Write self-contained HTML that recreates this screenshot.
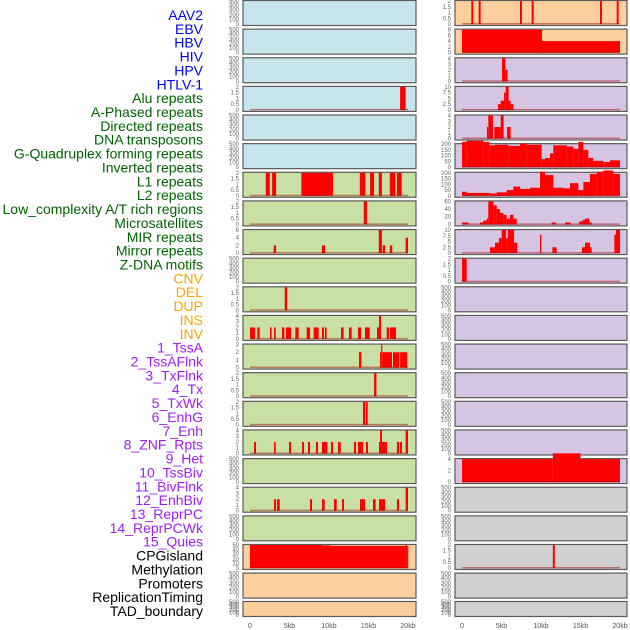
<!DOCTYPE html>
<html><head><meta charset="utf-8">
<style>
body{margin:0;background:#fff;width:630px;height:630px;overflow:hidden}
svg{display:block}
</style></head>
<body>
<svg id="chart" width="630" height="630" xmlns="http://www.w3.org/2000/svg"></svg>
<script>
const labels=["AAV2","EBV","HBV","HIV","HPV","HTLV-1","Alu repeats","A-Phased repeats","Directed repeats","DNA transposons","G-Quadruplex forming repeats","Inverted repeats","L1 repeats","L2 repeats","Low_complexity A/T rich regions","Microsatellites","MIR repeats","Mirror repeats","Z-DNA motifs","CNV","DEL","DUP","INS","INV","1_TssA","2_TssAFlnk","3_TxFlnk","4_Tx","5_TxWk","6_EnhG","7_Enh","8_ZNF_Rpts","9_Het","10_TssBiv","11_BivFlnk","12_EnhBiv","13_ReprPC","14_ReprPCWk","15_Quies","CPGisland","Methylation","Promoters","ReplicationTiming","TAD_boundary"];
const labelColors=["#0000ee","#0000ee","#0000ee","#0000ee","#0000ee","#0000ee","#006400","#006400","#006400","#006400","#006400","#006400","#006400","#006400","#006400","#006400","#006400","#006400","#006400","#ffa500","#ffa500","#ffa500","#ffa500","#ffa500","#a020f0","#a020f0","#a020f0","#a020f0","#a020f0","#a020f0","#a020f0","#a020f0","#a020f0","#a020f0","#a020f0","#a020f0","#a020f0","#a020f0","#a020f0","#000","#000","#000","#000","#000"];
const xTicks=[0,5,10,15,20];
const xTickLabels=["0","5kb","10kb","15kb","20kb"];
const E=[0,100,200,300,400,500];
const T2=[0,0.5,1,1.5,2];
const leftTicks=[E,E,E,T2,E,E,T2,T2,[0,2,4,6],E,T2,[0,1,2,3,4],[0,1,2,3],T2,T2,[0,1,2,3,4],E,[0,1,2,3,4],E,[0,10,20,30,40,50],E,E];
const leftBars=[[],[],[],[[19.0,19.7,2]],[],[],
[[2.0,2.5,2],[2.8,3.3,2],[6.5,10.5,2],[13.9,14.6,2],[15.2,15.7,2],[16.3,16.7,2],[17.7,18.4,2],[18.6,19.2,2]],
[[14.4,14.8,2]],
[[3.0,3.3,2],[9.1,9.5,2],[16.3,16.7,6],[16.8,17.1,2],[17.7,18.0,2],[19.7,20,4]],
[],
[[4.4,4.7,2]],
[[0,0.63,2],[0.93,1.22,2],[2.53,2.74,2],[3.04,3.25,2],[4.05,4.35,2],[4.56,5.19,2],[5.74,6.16,2],[7.17,7.59,2],[8.06,8.69,2],[9.11,9.37,2],[9.49,9.7,2],[11.52,11.85,2],[12.53,12.87,2],[13.67,14.05,2],[14.56,15.15,2],[16.08,16.33,2],[16.33,16.58,4],[17.3,17.59,2],[17.72,18.48,2]],
[[13.8,14.1,2],[16.46,16.6,2],[16.6,16.75,3],[16.75,17.97,2],[18.1,18.9,2],[19.0,19.9,2]],
[[15.7,16.0,2]],
[[14.3,14.56,2],[14.64,14.9,2]],
[[0.51,0.76,2],[3.04,3.25,2],[4.94,5.19,2],[6.58,6.83,2],[7.34,7.59,2],[8.35,8.6,2],[9.11,9.79,2],[10.25,10.5,2],[11.14,11.48,2],[13.16,13.42,2],[13.67,14.3,2],[14.68,14.93,2],[16.33,16.46,2],[16.46,16.71,4],[16.71,17.34,2],[18.6,18.86,2],[18.98,19.24,2],[19.7,20,4]],
[],
[[3.04,3.29,2],[3.42,3.76,2],[7.59,7.85,2],[9.11,9.45,2],[10.63,10.97,2],[11.65,11.9,2],[13.92,14.56,2],[15.57,15.9,2],[16.33,17.09,2],[18.6,18.86,2],[19.7,20,4]],
[],
[[0,9.11,50],[9.11,10.25,49],[10.25,19.7,48],[19.7,19.9,50],[19.9,20,47]],
[],[]];
const rightTicks=[T2,[0,2,4,6,8],[0,1,2,3,4],[0,2.5,5,7.5,10],[0,1,2,3,4],[0,50,100,150,200],[0,50,100,150,200],[0,20,40,60],[0,2.5,5,7.5,10],T2,E,E,E,E,E,E,[0,2,4],E,E,T2,E,E];
const rightBars=[
[[1.18,1.43,2],[2.11,2.36,2],[7.34,7.59,2],[8.82,9.07,2],[17.47,17.72,2],[19.58,19.83,2]],
[[0,10.13,8],[10.13,20,4]],
[[5.06,5.49,4],[5.49,5.78,2]],
[[4.56,4.9,2.5],[4.9,5.32,4],[5.32,5.53,7.5],[5.53,5.9,10],[5.9,6.16,4],[6.16,6.5,2.5]],
[[3.16,3.33,2],[3.33,3.92,4],[4.09,4.9,2],[4.9,5.27,4],[5.7,6.16,2]],
[[0,0.59,220],[0.59,2.7,230],[2.7,3.46,220],[3.46,4.18,190],[4.18,5.86,195],[5.86,7.34,185],[7.34,8.19,205],[8.19,10.08,195],[10.08,10.51,70],[10.51,11.14,80],[11.14,11.56,120],[11.56,13.25,190],[13.25,14.09,180],[14.09,14.73,160],[14.73,15.36,220],[15.36,15.99,150],[15.99,16.62,80],[16.62,17.89,55],[17.89,18.73,45],[18.73,20,60]],
[[0,0.59,35],[0.59,3.54,25],[3.54,4.39,20],[4.39,5.65,30],[5.65,6.5,50],[6.5,7.34,80],[7.34,8.61,60],[8.61,9.87,70],[9.87,10.51,210],[10.51,11.56,180],[11.56,12.83,70],[12.83,13.67,65],[13.67,14.73,110],[14.73,15.36,50],[15.36,16.2,120],[16.2,17.05,190],[17.05,17.89,210],[17.89,19.16,220],[19.16,20,190]],
[[0,0.84,5],[2.28,2.7,5],[2.7,3.12,10],[3.12,3.33,15],[3.33,3.97,60],[3.97,4.39,50],[4.39,4.81,40],[4.81,5.23,30],[5.23,5.65,25],[5.65,6.08,15],[6.08,6.5,25],[6.5,6.92,15],[11.35,11.9,5],[13.04,13.76,5],[14.85,15.28,8],[15.28,15.57,12],[15.57,16.12,15],[16.12,16.41,5]],
[[3.54,4.18,2.5],[4.18,4.68,4.5],[4.68,5.02,6.5],[5.02,5.57,10],[5.57,5.78,6.5],[5.78,6.58,10],[6.58,7.0,4.5],[9.87,10.04,8],[11.44,11.98,2.5],[15.19,15.57,2.5],[15.57,16.2,4.5],[16.2,16.41,2.5],[19.28,19.49,8],[19.49,20,10]],
[[0,0.59,2]],
[],[],[],[],[],[],
[[0,11.5,4],[11.5,15,5],[15,20,4]],
[],[],
[[11.5,11.75,2]],
[],[]];
const leftBg=i=>i<6?"#c8e4ec":(i<19?"#c8e0a4":"#fdcf9e");
const rightBg=i=>i<2?"#fdcf9e":(i<17?"#d6c5e2":"#d0d0d0");

const NS="http://www.w3.org/2000/svg";
const svg=document.getElementById("chart");
function mk(tag,attrs,parent){const e=document.createElementNS(NS,tag);for(const k in attrs)e.setAttribute(k,attrs[k]);(parent||svg).appendChild(e);return e;}
const rowTop=i=>i<21?i*28.63:601;
const rowH=i=>i<21?25:15;

const step=(611-15)/(labels.length-1);
labels.forEach((t,i)=>{
  const e=mk("text",{x:203,y:15+i*step+5,"text-anchor":"end","font-family":"Liberation Sans, sans-serif","font-size":"14",fill:labelColors[i]});
  e.textContent=t;
  
  
});

function drawCol(px0,px1,x0kb,ticksArr,barsArr,bgFn,colName){
  const sc=7.9;
  const xs=kb=>x0kb+kb*sc;
  for(let i=0;i<22;i++){
    const top=rowTop(i),h=rowH(i);
    const g=mk("g",{});
    
    
    mk("rect",{x:px0,y:top+0.5,width:px1-px0,height:h,fill:bgFn(i),stroke:"#5a5a5a","stroke-width":1.2},g);
    const ticks=ticksArr[i];const ymax=ticks[ticks.length-1];
    const ys=v=>top+h-1-(v/ymax)*(h-2);
    const bars=barsArr[i];
    bars.forEach(b=>{
      const r=mk("rect",{x:xs(b[0]),y:ys(b[2]),width:Math.max(1,xs(b[1])-xs(b[0])),height:top+h-1-ys(b[2]),fill:"#ff0000"},g);
      
      
    });
    if(bars.length){
      mk("rect",{x:xs(0),y:top+h-2,width:xs(20)-xs(0),height:1.5,fill:"rgba(160,0,0,0.45)"},g);
    }
    ticks.forEach(v=>{
      const t=mk("text",{x:px0-4,y:ys(v)+2,"text-anchor":"end","font-family":"Liberation Sans, sans-serif","font-size":"6",fill:"#666"},g);
      t.textContent=v;
      
      
    });
  }
  xTicks.forEach((v,k)=>{
    const t=mk("text",{x:xs(v),y:628,"text-anchor":"middle","font-family":"Liberation Sans, sans-serif","font-size":"7",fill:"#555"});
    t.textContent=xTickLabels[k];
    
    
  });
}
drawCol(243,416,250,leftTicks,leftBars,leftBg,"left");
drawCol(455,627,462,rightTicks,rightBars,rightBg,"right");
</script>
</body></html>
